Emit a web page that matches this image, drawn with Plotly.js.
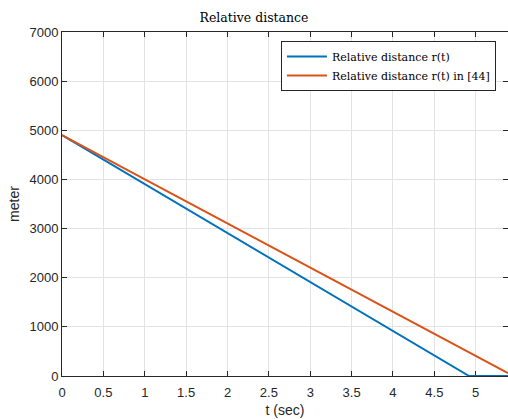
<!DOCTYPE html>
<html>
<head>
<meta charset="utf-8">
<script src="https://cdn.plot.ly/plotly-3.0.1.min.js"></script>
<style>html,body{margin:0;padding:0;background:#fff;}#chart{width:508px;height:419px;}</style>
</head>
<body>
<div id="chart"></div>
<script>
// data
const tBlue = [0, 4.92, 5.39];
const rBlue = [4900, 0, 0];
const tOrange = [0, 5.39];
const rOrange = [4900, 60];
const xTicks = [0, 0.5, 1, 1.5, 2, 2.5, 3, 3.5, 4, 4.5, 5];
const xTickText = ['0', '0.5', '1', '1.5', '2', '2.5', '3', '3.5', '4', '4.5', '5'];
const yTicks = [0, 1000, 2000, 3000, 4000, 5000, 6000, 7000];
const names = ['Relative distance r(t)', 'Relative distance r(t) in [44]'];

const axisColor = '#262626';
const traces = [
  {x: tBlue, y: rBlue, mode: 'lines', name: names[0], line: {color: '#0072BD', width: 2}, cliponaxis: false},
  {x: tOrange, y: rOrange, mode: 'lines', name: names[1], line: {color: '#D95319', width: 2}}
];
const layout = {
  width: 508, height: 419,
  margin: {l: 62, r: 0, t: 32, b: 43},
  paper_bgcolor: '#fff', plot_bgcolor: '#fff',
  showlegend: true,
  title: {text: 'Relative distance', font: {family: 'DejaVu Serif, serif', size: 12.5, color: '#000'}, x: 0.5, xanchor: 'center', y: 0.957, yanchor: 'middle'},
  xaxis: {
    range: [0, 5.39], tickvals: xTicks, ticktext: xTickText, layer: 'below traces',
    ticks: 'inside', ticklen: 5, tickcolor: axisColor, showline: true, linecolor: axisColor, linewidth: 1, mirror: 'ticks',
    showgrid: true, gridcolor: '#e3e3e3', zeroline: false, ticklabelstandoff: 4,
    tickfont: {family: 'Liberation Sans, Arial, sans-serif', size: 13, color: axisColor},
    title: {text: 't (sec)', font: {family: 'Liberation Sans, Arial, sans-serif', size: 14, color: axisColor}, standoff: 6}
  },
  yaxis: {
    range: [0, 7000], tickvals: yTicks, layer: 'below traces',
    ticks: 'inside', ticklen: 5, tickcolor: axisColor, showline: true, linecolor: axisColor, linewidth: 1, mirror: 'ticks',
    showgrid: true, gridcolor: '#e3e3e3', zeroline: false,
    tickfont: {family: 'Liberation Sans, Arial, sans-serif', size: 13, color: axisColor},
    title: {text: 'meter', font: {family: 'Liberation Sans, Arial, sans-serif', size: 14, color: axisColor}, standoff: 6}
  },
  legend: {
    x: 0.973, y: 0.974, xanchor: 'right', yanchor: 'top',
    bgcolor: '#fff', bordercolor: axisColor, borderwidth: 1,
    font: {family: 'DejaVu Serif, serif', size: 11, color: '#000'},
    tracegroupgap: 0, itemwidth: 40
  }
};
Plotly.newPlot('chart', traces, layout, {displayModeBar: false, staticPlot: true});
</script>
</body>
</html>
